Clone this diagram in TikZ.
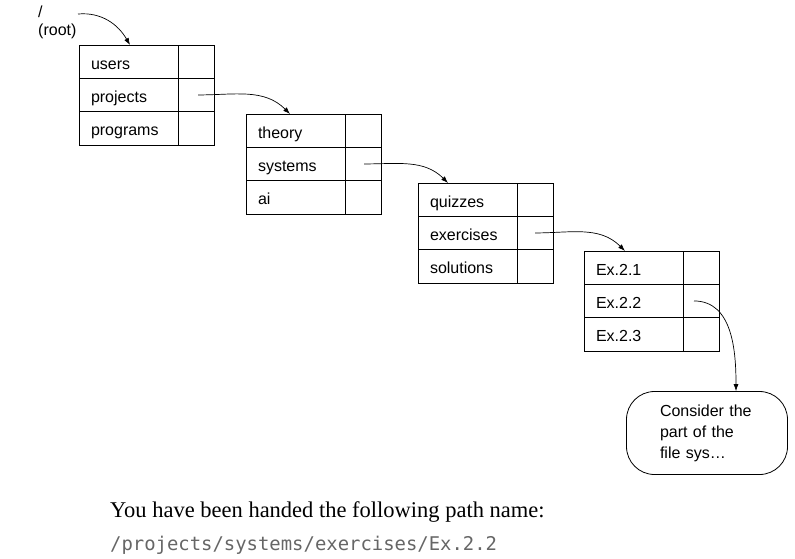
\documentclass[tikz,border=0pt]{standalone}
\usepackage{fontspec}
\setmainfont{Liberation Sans}
\newfontfamily\captionserif{Liberation Serif}
\newfontfamily\pathmono{DejaVu Sans Mono}
\usetikzlibrary{positioning,arrows.meta}

\begin{document}
\begin{tikzpicture}[x=1pt,y=-1pt,>={Latex[length=7pt,width=5pt]},font=\fontsize{16}{18}\selectfont,node distance=0pt]
\tikzstyle{entry}=[draw,line width=0.8pt,outer sep=0pt,text width=75pt,inner xsep=12pt,inner ysep=0pt,minimum height=33.3pt,text height=15pt,text depth=0pt,align=left]
\tikzstyle{slot}=[draw,line width=0.8pt,outer sep=0pt,minimum width=36pt,minimum height=33.3pt]
\tikzstyle{link}=[->,line width=0.7pt]

\useasboundingbox (0,0) rectangle (795,558);

% root label
\node[anchor=base west,inner sep=0pt] (slash) at (38,17) {/};
\node[anchor=base west,inner sep=0pt] (rootname) at (38,35) {(root)};
\coordinate (rootstart) at (78,14);

% top directory
\node[entry,anchor=north west] (users) at (79,45) {users};
\node[entry,below=of users] (projects) {projects};
\node[entry,below=of projects] (programs) {programs};
\node[slot,right=of users] (usersslot) {};
\node[slot,right=of projects] (projectsslot) {};
\node[slot,right=of programs] (programsslot) {};

% projects directory
\node[entry,anchor=north west] (theory) at (246,114) {theory};
\node[entry,below=of theory] (systems) {systems};
\node[entry,below=of systems] (ai) {ai};
\node[slot,right=of theory] (theoryslot) {};
\node[slot,right=of systems] (systemsslot) {};
\node[slot,right=of ai] (aislot) {};

% systems directory
\node[entry,anchor=north west] (quizzes) at (418,183) {quizzes};
\node[entry,below=of quizzes] (exercises) {exercises};
\node[entry,below=of exercises] (solutions) {solutions};
\node[slot,right=of quizzes] (quizzesslot) {};
\node[slot,right=of exercises] (exercisesslot) {};
\node[slot,right=of solutions] (solutionsslot) {};

% exercises directory
\node[entry,anchor=north west] (ex21) at (584,251) {Ex.2.1};
\node[entry,below=of ex21] (ex22) {Ex.2.2};
\node[entry,below=of ex22] (ex23) {Ex.2.3};
\node[slot,right=of ex21] (ex21slot) {};
\node[slot,right=of ex22] (ex22slot) {};
\node[slot,right=of ex23] (ex23slot) {};

\node[draw,line width=0.8pt,rounded corners=28pt,minimum width=161pt,minimum height=83pt,text width=94pt,align=left,font=\fontsize{16}{21}\selectfont] (note) at (707,433) {Consider the\\part of the\\file sys\ldots};

\draw[link] (rootstart) to[out=5,in=120] ([xshift=51pt]users.north west);
\draw[link] (projectsslot.center) ++(2,0) to[out=0,in=135] ([xshift=44pt]theory.north west);
\draw[link] (systemsslot.center) ++(1,0) to[out=0,in=135] ([xshift=30pt]quizzes.north west);
\draw[link] (exercisesslot.center) to[out=0,in=135] ([xshift=41pt]ex21.north west);
\draw[link] (ex22slot.center) ++(-7,0) to[out=0,in=90] ([xshift=29pt]note.north);

\node[anchor=base west,inner sep=0pt,font=\captionserif\fontsize{22.5}{27}\selectfont] (prompt) at (110,517) {You have been handed the following path name:};
\node[anchor=base west,inner sep=0pt,font=\pathmono\fontsize{18.9}{22}\selectfont,text=black!60] (pathname) at (110,550) {/projects/systems/exercises/Ex.2.2};
\end{tikzpicture}
\end{document}
